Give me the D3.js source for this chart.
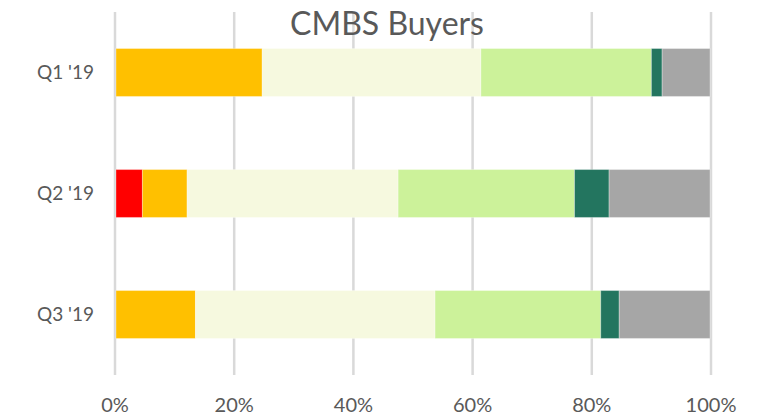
<!DOCTYPE html>
<html>
<head>
<meta charset="utf-8">
<script src="https://cdn.jsdelivr.net/npm/d3@7"></script>
<style>
  body { margin: 0; background: #fff; }
  text { font-family: Lato, "Open Sans", sans-serif; fill: #595959; }
</style>
</head>
<body>
<div id="chart"></div>
<script>
// Chart data (shares of buyers, in %)
const quarters = ["Q1 '19", "Q2 '19", "Q3 '19"];
const seriesNames = ["s1", "s2", "s3", "s4", "s5", "s6"];
const seriesColors = ["#FF0000", "#FFC000", "#F6F9DF", "#CCF29A", "#23755F", "#A6A6A6"];
const s1 = [0, 4.6, 0];
const s2 = [24.7, 7.5, 13.5];
const s3 = [36.7, 35.4, 40.2];
const s4 = [28.6, 29.6, 27.8];
const s5 = [1.8, 5.8, 3.1];
const s6 = [8.2, 17.1, 15.4];
const xTicks = [0, 20, 40, 60, 80, 100];
const title = "CMBS Buyers";

const width = 765, height = 416;
const margin = { top: 12, right: 54, bottom: 40, left: 115 };

const svg = d3.select("#chart").append("svg")
    .attr("width", width)
    .attr("height", height);

// build table for the stack
const allSeries = [s1, s2, s3, s4, s5, s6];
const table = quarters.map((q, i) => {
    const row = { quarter: q };
    seriesNames.forEach((n, j) => { row[n] = allSeries[j][i]; });
    return row;
});
const stacked = d3.stack().keys(seriesNames)(table);

const x = d3.scaleLinear()
    .domain([0, 100])
    .range([margin.left, width - margin.right]);

const y = d3.scaleBand()
    .domain(quarters)
    .range([margin.top, height - margin.bottom - 1])
    .paddingInner(0.604)
    .paddingOuter(0.302);

// gridlines
svg.append("g")
    .selectAll("line")
    .data(xTicks)
    .join("line")
    .attr("x1", d => x(d))
    .attr("x2", d => x(d))
    .attr("y1", margin.top)
    .attr("y2", height - margin.bottom - 1)
    .attr("stroke", "#D9D9D9")
    .attr("stroke-width", 2.5);

// bars (kept just inside the 0% and 100% gridlines)
const left = d => Math.max(x(d[0]), x(0) + 1);
const right = d => Math.min(x(d[1]), x(100) - 1);
svg.append("g")
    .selectAll("g")
    .data(stacked)
    .join("g")
    .attr("fill", (d, i) => seriesColors[i])
    .selectAll("rect")
    .data(d => d.filter(v => v[1] > v[0]))
    .join("rect")
    .attr("x", left)
    .attr("y", d => y(d.data.quarter))
    .attr("width", d => Math.max(0, right(d) - left(d)))
    .attr("height", y.bandwidth())
    .attr("stroke", "rgba(255,255,255,0.3)")
    .attr("stroke-width", 1);

// x axis labels
svg.append("g")
    .selectAll("text")
    .data(xTicks)
    .join("text")
    .attr("x", d => x(d))
    .attr("y", 412)
    .attr("text-anchor", "middle")
    .style("font-size", "20px")
    .text(d => d + "%");

// y axis labels
svg.append("g")
    .selectAll("text")
    .data(quarters)
    .join("text")
    .attr("x", 94)
    .attr("y", d => y(d) + y.bandwidth() / 2)
    .attr("dy", "0.35em")
    .attr("text-anchor", "end")
    .style("font-size", "19px")
    .text(d => d);

// title
svg.append("text")
    .attr("x", 387)
    .attr("y", 35)
    .attr("text-anchor", "middle")
    .style("font-size", "32px")
    .text(title);
</script>
</body>
</html>
